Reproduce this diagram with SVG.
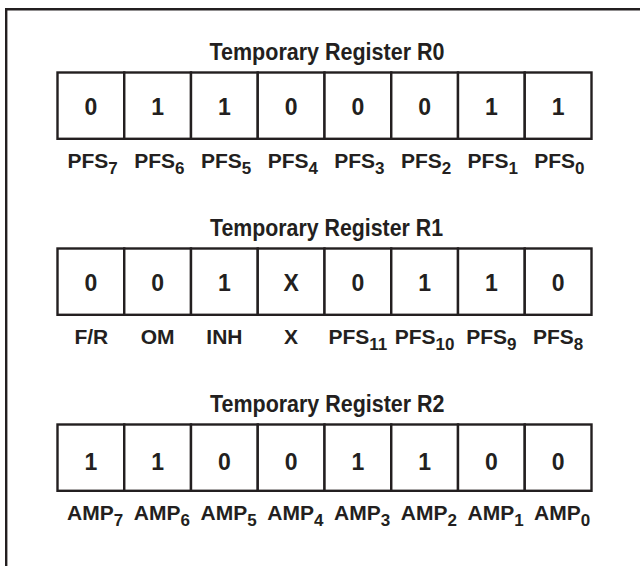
<svg xmlns="http://www.w3.org/2000/svg" width="640" height="566" viewBox="0 0 640 566">
<style>
.frame{fill:none;stroke:#231f20;stroke-width:2.4}
.cell{fill:#fff;stroke:#231f20;stroke-width:2.4}
text{font-family:"Liberation Sans",Arial,Helvetica,sans-serif;font-weight:bold;fill:#231f20}
.title{font-size:23px}
.bit{font-size:23px;text-anchor:middle}
.lbl{font-size:21px}
.mid{text-anchor:middle}
.sub{font-size:17px}
</style>
<rect width="640" height="566" fill="#fff"/>
<g id="frame"><path class="frame" d="M6.2,566 V9.3 H640"/></g>

<g id="register-r0">
<text class="title" x="209.5" y="60.3" textLength="235" lengthAdjust="spacingAndGlyphs">Temporary Register R0</text>
<g id="r0-bit7"><rect class="cell" x="57.5" y="72.5" width="66.75" height="66.3"/><text class="bit" x="90.9" y="114.5">0</text><text class="lbl" x="67.5" y="167.5">PFS<tspan class="sub" dy="6">7</tspan></text></g>
<g id="r0-bit6"><rect class="cell" x="124.25" y="72.5" width="66.75" height="66.3"/><text class="bit" x="157.6" y="114.5">1</text><text class="lbl" x="134.25" y="167.5">PFS<tspan class="sub" dy="6">6</tspan></text></g>
<g id="r0-bit5"><rect class="cell" x="191" y="72.5" width="66.75" height="66.3"/><text class="bit" x="224.4" y="114.5">1</text><text class="lbl" x="201" y="167.5">PFS<tspan class="sub" dy="6">5</tspan></text></g>
<g id="r0-bit4"><rect class="cell" x="257.75" y="72.5" width="66.75" height="66.3"/><text class="bit" x="291.1" y="114.5">0</text><text class="lbl" x="267.75" y="167.5">PFS<tspan class="sub" dy="6">4</tspan></text></g>
<g id="r0-bit3"><rect class="cell" x="324.5" y="72.5" width="66.75" height="66.3"/><text class="bit" x="357.9" y="114.5">0</text><text class="lbl" x="334.2" y="167.5">PFS<tspan class="sub" dy="6">3</tspan></text></g>
<g id="r0-bit2"><rect class="cell" x="391.25" y="72.5" width="66.75" height="66.3"/><text class="bit" x="424.6" y="114.5">0</text><text class="lbl" x="401" y="167.5">PFS<tspan class="sub" dy="6">2</tspan></text></g>
<g id="r0-bit1"><rect class="cell" x="458" y="72.5" width="66.75" height="66.3"/><text class="bit" x="491.4" y="114.5">1</text><text class="lbl" x="467.6" y="167.5">PFS<tspan class="sub" dy="6">1</tspan></text></g>
<g id="r0-bit0"><rect class="cell" x="524.75" y="72.5" width="66.75" height="66.3"/><text class="bit" x="558.1" y="114.5">1</text><text class="lbl" x="534.2" y="167.5">PFS<tspan class="sub" dy="6">0</tspan></text></g>
</g>

<g id="register-r1">
<text class="title" x="210" y="236.3" textLength="233" lengthAdjust="spacingAndGlyphs">Temporary Register R1</text>
<g id="r1-bit7"><rect class="cell" x="57.5" y="248.5" width="66.75" height="66.3"/><text class="bit" x="90.9" y="290.8">0</text><text class="lbl mid" x="91.3" y="343.5">F/R</text></g>
<g id="r1-bit6"><rect class="cell" x="124.25" y="248.5" width="66.75" height="66.3"/><text class="bit" x="157.6" y="290.8">0</text><text class="lbl mid" x="157.6" y="343.5">OM</text></g>
<g id="r1-bit5"><rect class="cell" x="191" y="248.5" width="66.75" height="66.3"/><text class="bit" x="224.4" y="290.8">1</text><text class="lbl mid" x="224.4" y="343.5">INH</text></g>
<g id="r1-bit4"><rect class="cell" x="257.75" y="248.5" width="66.75" height="66.3"/><text class="bit" x="291.1" y="290.8">X</text><text class="lbl mid" x="291.1" y="343.5">X</text></g>
<g id="r1-bit3"><rect class="cell" x="324.5" y="248.5" width="66.75" height="66.3"/><text class="bit" x="357.9" y="290.8">0</text><text class="lbl mid" x="357.9" y="343.5">PFS<tspan class="sub" dy="6">11</tspan></text></g>
<g id="r1-bit2"><rect class="cell" x="391.25" y="248.5" width="66.75" height="66.3"/><text class="bit" x="424.6" y="290.8">1</text><text class="lbl mid" x="424.6" y="343.5">PFS<tspan class="sub" dy="6">10</tspan></text></g>
<g id="r1-bit1"><rect class="cell" x="458" y="248.5" width="66.75" height="66.3"/><text class="bit" x="491.4" y="290.8">1</text><text class="lbl mid" x="491.4" y="343.5">PFS<tspan class="sub" dy="6">9</tspan></text></g>
<g id="r1-bit0"><rect class="cell" x="524.75" y="248.5" width="66.75" height="66.3"/><text class="bit" x="558.1" y="290.8">0</text><text class="lbl mid" x="558.1" y="343.5">PFS<tspan class="sub" dy="6">8</tspan></text></g>
</g>

<g id="register-r2">
<text class="title" x="210" y="412.3" textLength="234.5" lengthAdjust="spacingAndGlyphs">Temporary Register R2</text>
<g id="r2-bit7"><rect class="cell" x="57.5" y="424.5" width="66.75" height="66.3"/><text class="bit" x="90.9" y="469.5">1</text><text class="lbl" x="67" y="519.5">AMP<tspan class="sub" dy="6">7</tspan></text></g>
<g id="r2-bit6"><rect class="cell" x="124.25" y="424.5" width="66.75" height="66.3"/><text class="bit" x="157.6" y="469.5">1</text><text class="lbl" x="133.75" y="519.5">AMP<tspan class="sub" dy="6">6</tspan></text></g>
<g id="r2-bit5"><rect class="cell" x="191" y="424.5" width="66.75" height="66.3"/><text class="bit" x="224.4" y="469.5">0</text><text class="lbl" x="200.5" y="519.5">AMP<tspan class="sub" dy="6">5</tspan></text></g>
<g id="r2-bit4"><rect class="cell" x="257.75" y="424.5" width="66.75" height="66.3"/><text class="bit" x="291.1" y="469.5">0</text><text class="lbl" x="267.25" y="519.5">AMP<tspan class="sub" dy="6">4</tspan></text></g>
<g id="r2-bit3"><rect class="cell" x="324.5" y="424.5" width="66.75" height="66.3"/><text class="bit" x="357.9" y="469.5">1</text><text class="lbl" x="334" y="519.5">AMP<tspan class="sub" dy="6">3</tspan></text></g>
<g id="r2-bit2"><rect class="cell" x="391.25" y="424.5" width="66.75" height="66.3"/><text class="bit" x="424.6" y="469.5">1</text><text class="lbl" x="400.75" y="519.5">AMP<tspan class="sub" dy="6">2</tspan></text></g>
<g id="r2-bit1"><rect class="cell" x="458" y="424.5" width="66.75" height="66.3"/><text class="bit" x="491.4" y="469.5">0</text><text class="lbl" x="467.5" y="519.5">AMP<tspan class="sub" dy="6">1</tspan></text></g>
<g id="r2-bit0"><rect class="cell" x="524.75" y="424.5" width="66.75" height="66.3"/><text class="bit" x="558.1" y="469.5">0</text><text class="lbl" x="534" y="519.5">AMP<tspan class="sub" dy="6">0</tspan></text></g>
</g>
</svg>
